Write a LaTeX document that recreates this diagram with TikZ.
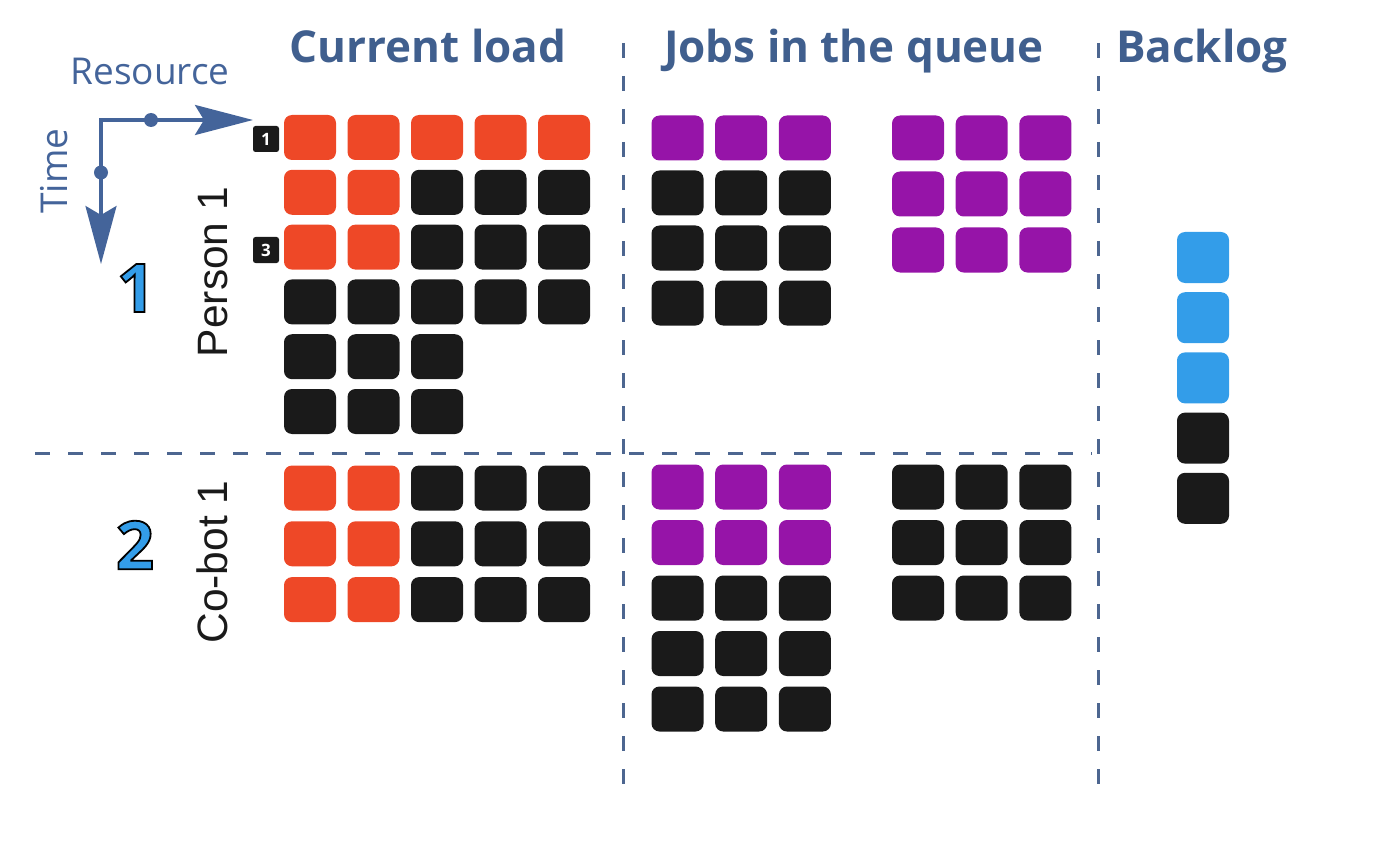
\documentclass[tikz,border=0pt]{standalone}
\usepackage{fontspec}
\setmainfont{Open Sans}
\newfontfamily\labelfont{Liberation Sans}
\usepackage{xcolor}
\usetikzlibrary{arrows.meta}

\definecolor{headblue}{HTML}{405F8E}
\definecolor{axisblue}{HTML}{44649A}
\definecolor{dashblue}{HTML}{4D6690}
\definecolor{loadorange}{HTML}{EE4827}
\definecolor{queuepurple}{HTML}{9614A8}
\definecolor{cellblack}{HTML}{1A1A1A}
\definecolor{backblue}{HTML}{339DE9}

% outlined digit (fill + stroke)
\newcommand{\outlinedigit}[1]{\special{pdf:literal 0 0 0 RG 2 Tr 1.8 w}#1\special{pdf:literal 0 Tr 0.4 w}}

\begin{document}
\begin{tikzpicture}[x=1pt, y=-1pt,
    cell/.style={rectangle, rounded corners=8pt, inner sep=0pt, minimum width=52pt, minimum height=45pt},
    ld/.style={cell, fill=loadorange},
    qu/.style={cell, fill=queuepurple},
    bk/.style={cell, fill=cellblack},
    bl/.style={cell, fill=backblue},
    head/.style={anchor=base, text=headblue, font=\bfseries\fontsize{44}{50}\selectfont},
    axislabel/.style={anchor=base, text=axisblue, font=\fontsize{37}{42}\selectfont},
    reslabel/.style={anchor=base, rotate=90, text=cellblack, font=\labelfont\fontsize{42.5}{48}\selectfont},
    bignum/.style={text=backblue, font=\bfseries\fontsize{67}{70}\selectfont},
    tag/.style={rectangle, rounded corners=2.5pt, fill=cellblack, text=white, inner sep=0pt, minimum size=26pt, font=\bfseries\fontsize{17}{18}\selectfont},
    dot/.style={circle, fill=axisblue, inner sep=0pt, minimum size=14pt},
    axis/.style={draw=axisblue, line width=3.2pt, {Stealth[length=58pt, width=31pt, inset=9pt]}-{Stealth[length=58pt, width=30pt, inset=9pt]}},
    divider/.style={draw=dashblue, line width=3pt, dash pattern=on 15pt off 18pt}
]
    \useasboundingbox (0,0) rectangle (1400,845);

    % Dividers
    \coordinate (div1top) at (623,43);
    \coordinate (div1bot) at (623,792);
    \coordinate (div2top) at (1098,43);
    \coordinate (div2bot) at (1098,792);
    \coordinate (rowleft) at (35,453);
    \coordinate (rowright) at (1092,453);
    \draw[divider] (div1top) -- (div1bot);
    \draw[divider] (div2top) -- (div2bot);
    \draw[divider] (rowleft) -- (rowright);

    % Column headings
    \node[head] (curhead) at (428,63) {Current load};
    \node[head] (quehead) at (854,63) {Jobs in the queue};
    \node[head] (backhead) at (1202,63) {Backlog};

    % Axes
    \node[axislabel] (reslabel) at (150,85) {Resource};
    \node[axislabel, rotate=90] (timelabel) at (67,171) {Time};
    \coordinate (corner) at (101,120);
    \coordinate (restip) at (253,120);
    \coordinate (timetip) at (101,264);
    \draw[axis] (timetip) -- (corner) -- (restip);
    \node[dot] (resdot) at (151,120) {};
    \node[dot] (timedot) at (101,172.5) {};

    % Resources
    \node[reslabel] (person) at (227,272) {Person 1};
    \node[reslabel] (cobot) at (227,562) {Co-bot 1};
    \node[bignum] (num1) at (136,288) {\outlinedigit{1}};
    \node[bignum] (num2) at (135,545) {\outlinedigit{2}};

    % Current load
    \foreach \row [count=\r] in {{ld,ld,ld,ld,ld},{ld,ld,bk,bk,bk},{ld,ld,bk,bk,bk},{bk,bk,bk,bk,bk},{bk,bk,bk},{bk,bk,bk}}
        \foreach \s [count=\c] in \row
            \node[\s] (load-p-\r-\c) at ({310+63.5*(\c-1)},{137.5+54.8*(\r-1)}) {};
    \foreach \row [count=\r] in {{ld,ld,bk,bk,bk},{ld,ld,bk,bk,bk},{ld,ld,bk,bk,bk}}
        \foreach \s [count=\c] in \row
            \node[\s] (load-c-\r-\c) at ({310+63.5*(\c-1)},{488+55.8*(\r-1)}) {};
    \node[tag] (tag1) at (266,139) {1};
    \node[tag] (tag3) at (266,250) {3};

    % Jobs in the queue
    \foreach \row [count=\r] in {{qu,qu,qu},{bk,bk,bk},{bk,bk,bk},{bk,bk,bk}}
        \foreach \s [count=\c] in \row
            \node[\s] (queue-p-a-\r-\c) at ({677.5+63.7*(\c-1)},{138+55*(\r-1)}) {};
    \foreach \row [count=\r] in {{qu,qu,qu},{qu,qu,qu},{qu,qu,qu}}
        \foreach \s [count=\c] in \row
            \node[\s] (queue-p-b-\r-\c) at ({918+63.7*(\c-1)},{138+56*(\r-1)}) {};
    \foreach \row [count=\r] in {{qu,qu,qu},{qu,qu,qu},{bk,bk,bk},{bk,bk,bk},{bk,bk,bk}}
        \foreach \s [count=\c] in \row
            \node[\s] (queue-c-a-\r-\c) at ({677.5+63.7*(\c-1)},{487+55.5*(\r-1)}) {};
    \foreach \row [count=\r] in {{bk,bk,bk},{bk,bk,bk},{bk,bk,bk}}
        \foreach \s [count=\c] in \row
            \node[\s] (queue-c-b-\r-\c) at ({918+63.7*(\c-1)},{487+55.5*(\r-1)}) {};

    % Backlog
    \foreach \s [count=\r] in {bl,bl,bl,bk,bk}
        \node[\s, minimum height=51pt] (back-\r) at (1203,{257.5+60.2*(\r-1)}) {};
\end{tikzpicture}
\end{document}
